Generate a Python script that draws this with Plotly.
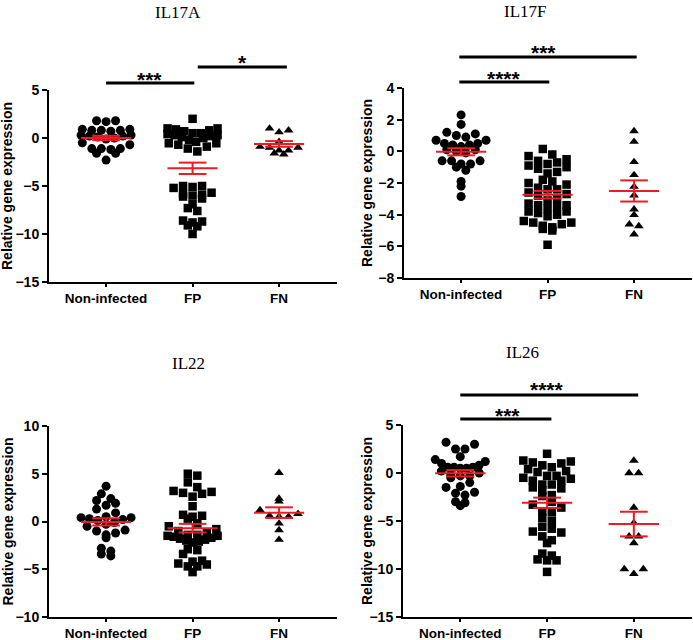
import numpy as np
import plotly.graph_objects as go

# ---------------- data ----------------
groups = ["Non-infected", "FP", "FN"]
panel_titles = ["IL17A", "IL17F", "IL22", "IL26"]

il17a_ni = [1.8, 1.7, 1.8, 0.9, 0.8, 0.7, 0.8, 0.9, 0.8, 0.3, 0.2, 0.1, 0.0, -0.1,
            0.2, 0.3, -0.5, -0.7, -1.1, -1.2, -1.1, -1.1, -1.6, -1.6, -2.3]
il17a_fp = [2.0, 1.0, 0.9, 0.7, 0.5, 0.3, 0.1, 0.3, 0.5, 0.8, 1.0, 0.2, 0.0, -0.2,
            0.4, -0.4, -0.55, -0.9, -1.4, -1.1, -0.7, -0.55,
            -5.0, -5.1, -5.2, -5.0, -5.7, -5.9, -6.0, -5.8, -6.1, -6.3, -6.9, -7.3,
            -7.6, -8.6, -8.7, -8.8, -9.1, -9.2, -10.0]
il17a_fn = [0.8, 0.6, 1.0, -0.4, -0.9, -1.0, -1.3, -1.7, -1.6, -1.3, -1.0]

il17f_ni = [2.3, 1.7, 1.1, 0.9, 0.7, 0.7, 1.0, 1.2, 0.5, 0.4, 0.3, 0.1, 0.4, 0.5,
            0.1, -0.1, 0.0, -0.6, -0.6, -0.8, -1.2, -1.0, -0.8, -0.6, -1.9, -2.2, -2.85]
il17f_fp = [0.15, -0.2, -0.3, -0.5, -0.6, -0.7, -0.8, -0.9, -1.0, -1.1, -1.3, -1.4,
            -1.8, -1.9, -2.0, -2.1, -2.3, -2.4, -2.4, -2.6, -2.7, -2.8, -3.0, -3.1,
            -3.3, -3.4, -3.4, -3.5, -3.6, -3.8, -3.8, -3.9, -4.0, -4.1, -4.4, -4.5,
            -4.5, -4.6, -4.7, -4.8, -4.9, -5.0, -5.9]
il17f_fn = [1.28, 0.61, -0.67, -1.49, -2.23, -2.78, -3.66, -4.02, -4.61, -4.72, -5.24]

il22_ni = [3.7, 2.9, 2.4, 2.2, 1.9, 1.7, 1.3, 0.9, 0.5, 0.4, 0.3, 0.2, 0.4, 0.1,
           -0.1, -0.3, -0.5, -0.9, -1.0, -1.2, -1.4, -1.7, -2.8, -3.1, -3.4, -3.6]
il22_fp = [5.0, 4.8, 4.1, 3.6, 3.2, 3.0, 2.9, 2.6, 3.1, 1.6, 0.7, 0.6, 0.5, 0.3,
           -0.2, -0.5, -0.8, -1.0, -1.2, -1.4, -1.5, -1.5, -1.6, -1.7, -1.8, -1.9,
           -2.0, -2.1, -2.2, -1.4, -3.0, -3.4, -2.9, -4.1, -4.4, -4.7, -5.3, -4.7,
           -4.5, -4.2]
il22_fn = [5.1, 2.4, 2.1, 1.2, 0.6, 0.5, 0.5, 0.8, -0.2, -0.9, -1.9]

il26_ni = [3.2, 3.0, 2.5, 2.5, 1.7, 1.4, 1.2, 1.0, 0.8, 0.6, 0.6, 0.5, 0.5, 0.6,
           0.2, 0.0, -0.2, -0.3, -0.3, -0.5, -1.0, -1.4, -1.5, -2.0, -2.1, -2.3,
           -3.0, -3.4, -3.1]
il26_fp = [2.0, 1.3, 1.2, 1.1, 1.0, 0.8, 0.6, 0.4, 0.2, 0.1, -0.3, -0.3, -0.5,
           -0.6, -0.8, -0.8, -1.2, -1.2, -1.5, -1.6, -1.8, -2.3, -2.4, -3.0, -3.3,
           -3.6, -4.0, -4.1, -4.7, -5.0, -5.6, -5.8, -6.1, -6.2, -6.6, -7.0, -7.3,
           -8.4, -8.6, -9.0, -9.1, -9.1, -10.3]
il26_fn = [1.3, 0.0, 0.0, -3.6, -5.2, -6.6, -6.6, -7.3, -10.0, -10.0, -10.5]

panel_data = [
    [il17a_ni, il17a_fp, il17a_fn],
    [il17f_ni, il17f_fp, il17f_fn],
    [il22_ni, il22_fp, il22_fn],
    [il26_ni, il26_fp, il26_fn],
]
y_ranges = [(-15, 5), (-8, 4), (-10, 10), (-15, 5)]
y_dticks = [5, 2, 5, 5]
# significance: (group_from, group_to, label)
significance = [
    [(0, 1, "***"), (1, 2, "*")],
    [(0, 2, "***"), (0, 1, "****")],
    [],
    [(0, 2, "****"), (0, 1, "***")],
]

# ---------------- layout geometry (pixels) ----------------
W, H = 693, 640
# (left, right, top, bottom) of each plot area
boxes = [(49, 337, 90, 282), (404, 692, 88, 278), (49, 337, 426, 617), (403, 692, 425, 617)]
X_RANGE = (-0.66, 2.67)
bar_px = [[(83, 0.0, 1.02), (67, 1.06, 2.09)],
          [(57, -0.02, 2.03), (82, -0.02, 1.02)],
          [],
          [(395, 0.0, 2.05), (419, 0.0, 1.05)]]
star_px = [[(0.50, 74), (1.58, 57)],
           [(0.95, 47), (0.50, 73)],
           [],
           [(1.00, 384), (0.54, 410)]]
title_pos = [(0.83, 13), (0.74, 12), (0.95, 363), (0.72, 352)]
ytitle_x_px = [7, 367, 7, 367]

symbols = ["circle", "square", "triangle-up"]
sizes = [9, 8.5, 8.5]
RED = "#ec1c24"
FONT = "Arial, Liberation Sans, sans-serif"
SERIF = "Times New Roman, Liberation Serif, serif"


def swarm_offsets(values, ppu, px_per_cat, bin_px=9.0, step_px=9.5, max_span_px=50.0):
    """Prism-like column scatter: bin values, spread each bin horizontally,
    largest values of a bin go to the outside (V shape)."""
    vals = np.asarray(values, float)
    binsz = bin_px / ppu
    idx = np.round(vals / binsz).astype(int)
    offs = np.zeros(len(vals))
    for b in np.unique(idx):
        members = np.where(idx == b)[0]
        n = len(members)
        if n == 1:
            continue
        step = min(step_px, max_span_px / (n - 1))
        slots = (np.arange(n) - (n - 1) / 2) * step
        slot_order = sorted(range(n), key=lambda i: (-abs(slots[i]), slots[i]))
        val_order = members[np.argsort(-vals[members], kind="stable")]
        for s, m in zip(slot_order, val_order):
            offs[m] = slots[s]
    return offs / px_per_cat


fig = go.Figure()
shapes = []
annotations = []

for p in range(4):
    L, R, T, B = boxes[p]
    ax = "" if p == 0 else str(p + 1)
    xref, yref = "x" + ax, "y" + ax
    ymin, ymax = y_ranges[p]
    ppu = (B - T) / (ymax - ymin)
    px_per_cat = (R - L) / (X_RANGE[1] - X_RANGE[0])

    for g in range(3):
        vals = np.asarray(panel_data[p][g], float)
        xs = g + swarm_offsets(vals, ppu, px_per_cat)
        fig.add_trace(go.Scatter(
            x=xs, y=vals, mode="markers", xaxis=xref, yaxis=yref,
            marker=dict(symbol=symbols[g], size=sizes[g], color="black",
                        line=dict(width=0)),
            hoverinfo="y", showlegend=False, cliponaxis=False))

    # mean +/- SEM in red
    for g in range(3):
        vals = np.asarray(panel_data[p][g], float)
        m = vals.mean()
        sem = vals.std(ddof=1) / np.sqrt(len(vals))
        hw, cw = 0.29, 0.16
        lx = [g - hw, g + hw, None, g - cw, g + cw, None, g - cw, g + cw, None, g, g]
        ly = [m, m, None, m + sem, m + sem, None, m - sem, m - sem, None, m + sem, m - sem]
        fig.add_trace(go.Scatter(x=lx, y=ly, mode="lines", xaxis=xref, yaxis=yref,
                                 line=dict(color=RED, width=2), hoverinfo="skip",
                                 showlegend=False))

    # significance bars and stars
    for (py, x0, x1), (sx, sy), (_, _, lab) in zip(bar_px[p], star_px[p], significance[p]):
        yd = (B - py) / (B - T)
        shapes.append(dict(type="line", xref=xref, yref=yref + " domain",
                           x0=x0, x1=x1, y0=yd, y1=yd,
                           line=dict(color="black", width=3)))
        fs = 21
        annotations.append(dict(text=lab, xref=xref, yref=yref + " domain",
                                x=sx, y=(B - (sy + 0.27 * fs)) / (B - T),
                                showarrow=False, xanchor="center", yanchor="middle",
                                font=dict(family=FONT, size=fs, color="black",
                                          weight="bold")))

    # panel title
    tx, ty = title_pos[p]
    annotations.append(dict(text=panel_titles[p], xref=xref, yref=yref + " domain",
                            x=tx, y=(B - ty) / (B - T), showarrow=False,
                            xanchor="center", yanchor="middle",
                            font=dict(family=SERIF, size=17, color="black")))
    # y axis title
    annotations.append(dict(text="Relative gene expression", xref=xref + " domain",
                            yref=yref + " domain",
                            x=(ytitle_x_px[p] - L) / (R - L), y=0.5, textangle=-90,
                            showarrow=False, xanchor="center", yanchor="middle",
                            font=dict(family=FONT, size=14, color="black",
                                      weight="bold")))

    axis_common = dict(showline=True, linecolor="black", linewidth=2, ticks="outside",
                       tickcolor="black", tickwidth=2, showgrid=False, zeroline=False,
                       automargin=False)
    fig.update_layout(**{
        "xaxis" + ax: dict(domain=[L / W, R / W], range=list(X_RANGE),
                           tickvals=[0, 1, 2], ticktext=groups, ticklen=3,
                           ticklabelstandoff=0,
                           tickfont=dict(family=FONT, size=13.5, color="black",
                                         weight="bold"),
                           anchor=yref, fixedrange=True, **axis_common),
        "yaxis" + ax: dict(domain=[1 - B / H, 1 - T / H], range=[ymin, ymax],
                           dtick=y_dticks[p], tick0=0, ticklen=5, anchor=xref,
                           tickfont=dict(family=FONT, size=14, color="black",
                                         weight="bold"),
                           fixedrange=True, **axis_common),
    })

fig.update_layout(template="none", width=W, height=H,
                  margin=dict(l=0, r=0, t=0, b=0, autoexpand=False),
                  paper_bgcolor="white", plot_bgcolor="white",
                  shapes=shapes, annotations=annotations, showlegend=False)

fig.write_html("out.html", config={"displayModeBar": False},
               post_script="document.body.style.margin='0';"
                           "document.body.style.overflow='hidden';")
